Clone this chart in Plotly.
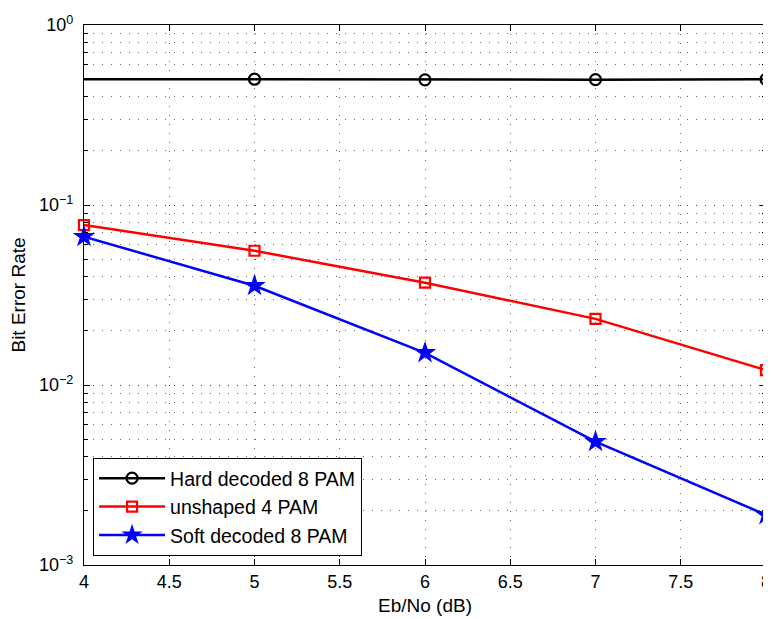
import plotly.graph_objects as go

ebno_hard = [3, 5, 6, 7, 8]
ber_hard = [0.5, 0.4998, 0.496, 0.497, 0.499]

ebno = [4, 5, 6, 7, 8]
ber_unshaped4 = [0.0774, 0.0557, 0.0370, 0.0233, 0.0121]
ber_soft8 = [0.0667, 0.0356, 0.0151, 0.00484, 0.00190]

x_ticks = [4, 4.5, 5, 5.5, 6, 6.5, 7, 7.5, 8]
x_ticktext = ["4", "4.5", "5", "5.5", "6", "6.5", "7", "7.5", "8"]
y_ticks = [1e-3, 1e-2, 1e-1, 1]
y_ticktext = ["10<sup>−3</sup>", "10<sup>−2</sup>", "10<sup>−1</sup>", "10<sup>0</sup>"]

FONT = "Liberation Sans, Arial, sans-serif"
LW = 2.5

fig = go.Figure()
# segment of the hard-decoded curve that starts left of the visible range (no marker shown)
fig.add_trace(go.Scatter(
    x=ebno_hard[:2], y=ber_hard[:2], mode="lines", showlegend=False,
    line=dict(color="black", width=LW), legendgroup="hard", hoverinfo="skip",
))
fig.add_trace(go.Scatter(
    x=ebno_hard[1:], y=ber_hard[1:], mode="lines+markers", name="Hard decoded 8 PAM",
    line=dict(color="black", width=LW), legendgroup="hard",
    marker=dict(symbol="circle-open", size=11, color="black", line=dict(width=2.2)),
    cliponaxis=False,
))
fig.add_trace(go.Scatter(
    x=ebno, y=ber_unshaped4, mode="lines+markers", name="unshaped 4 PAM",
    line=dict(color="red", width=LW),
    marker=dict(symbol="square-open", size=10, color="red", line=dict(width=2.2)),
    cliponaxis=False,
))
fig.add_trace(go.Scatter(
    x=ebno, y=ber_soft8, mode="lines+markers", name="Soft decoded 8 PAM",
    line=dict(color="blue", width=LW),
    marker=dict(symbol="star", size=17, color="blue", line=dict(width=0)),
    cliponaxis=False,
))

grid_col = "rgba(40,40,40,0.7)"
grid_dash = "1px,8px"
fig.update_layout(
    width=763, height=611,
    margin=dict(l=76, r=5, t=17, b=54, autoexpand=False),
    paper_bgcolor="white", plot_bgcolor="white",
    font=dict(family=FONT, size=18, color="black"),
    showlegend=True,
    legend=dict(
        x=0.013, y=0.017, xanchor="left", yanchor="bottom",
        bordercolor="black", borderwidth=1.2, bgcolor="white",
        font=dict(family=FONT, size=19.5, color="black"),
        itemwidth=66, tracegroupgap=0,
    ),
    xaxis=dict(
        range=[4, 8], tickvals=x_ticks, ticktext=x_ticktext,
        showline=True, linecolor="black", linewidth=1.2, mirror="ticks",
        ticks="inside", ticklen=6, tickcolor="black", tickwidth=1,
        showgrid=True, gridcolor=grid_col, griddash=grid_dash, gridwidth=1,
        zeroline=False, ticklabeloverflow="allow",
        title=dict(text="Eb/No (dB)", font=dict(size=19), standoff=7),
        tickfont=dict(size=18),
    ),
    yaxis=dict(
        type="log", range=[-3, 0], tickvals=y_ticks, ticktext=y_ticktext,
        showline=True, linecolor="black", linewidth=1.2, mirror="ticks",
        ticks="inside", ticklen=6, tickcolor="black", tickwidth=1,
        showgrid=True, gridcolor=grid_col, griddash=grid_dash, gridwidth=1,
        zeroline=False, ticklabelstandoff=6, ticklabeloverflow="allow",
        minor=dict(ticks="inside", ticklen=4, tickcolor="black", showgrid=True,
                   gridcolor=grid_col, griddash=grid_dash, gridwidth=1, dtick="D1"),
        title=dict(text="Bit Error Rate", font=dict(size=19), standoff=10),
        tickfont=dict(size=18),
    ),
)

fig.write_html("out.html")
